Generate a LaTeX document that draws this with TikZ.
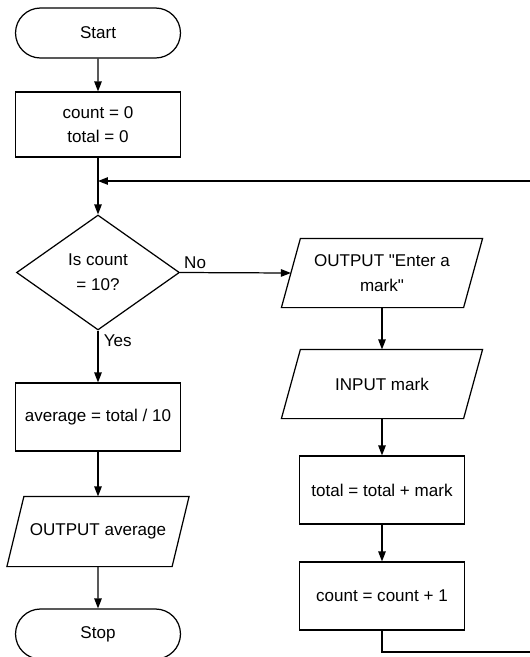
\documentclass[tikz,border=0pt]{standalone}
\usepackage{fontspec}
\setmainfont{Liberation Sans}[Ligatures=TeXOff]
\usetikzlibrary{positioning,arrows.meta,shapes.geometric,shapes.misc}

\begin{document}
\begin{tikzpicture}[
  x=0.02cm, y=-0.02cm,
  every node/.style={font=\fontsize{9.7}{14}\selectfont, line width=0.7pt},
  term/.style={draw, rounded rectangle, minimum width=3.3cm, minimum height=1cm,
               inner sep=0pt},
  proc/.style={draw, rectangle, minimum width=3.3cm, minimum height=1.36cm,
               inner sep=0pt, align=center},
  io/.style={rectangle, minimum width=4cm, minimum height=1.36cm,
             inner sep=0pt, align=center,
             append after command={\pgfextra{
               \draw[line width=0.7pt] ([xshift=#1]\tikzlastnode.north west)
                 -- (\tikzlastnode.north east) -- ([xshift=-#1]\tikzlastnode.south east)
                 -- (\tikzlastnode.south west) -- cycle;}}},
  io/.default=0.38cm,
  dec/.style={draw, diamond, minimum width=3.26cm, minimum height=2.3cm,
              inner sep=0pt, aspect=1.4, align=center},
  arr/.style={-{Triangle[length=2mm, width=1.5mm]}, line width=0.7pt},
  lbl/.style={inner sep=1pt},
]
\useasboundingbox (0,0) rectangle (529,657);

% main column on the left
\node[term] (St) at (98,33) {Start};
\node[proc, minimum height=1.3cm] (Ini) at (98,124.5) {count = 0\\total = 0};
\coordinate (J) at (98,181);
\node[dec] (Dec) at (98,272.5) {Is count\\= 10?};
\node[proc] (Avg) at (98,417) {average = total / 10};
\node[io=0.34cm, minimum width=3.62cm, minimum height=1.38cm] (Out) at (98,531.5) {OUTPUT average};
\node[term] (Sp) at (98,634) {Stop};

% loop body on the right
\node[io] (Ask) at (382,273) {OUTPUT "Enter a\\mark"};
\node[io] (Inp) at (382,384) {INPUT mark};
\node[proc] (Tot) at (382,490) {total = total + mark};
\node[proc] (Cnt) at (382,596) {count = count + 1};

% way back to the test, leaving the page on the right
\coordinate (Lb) at (560,652);
\coordinate (Lt) at (560,181);

\draw[arr] (St) -- (Ini);
\draw[line width=0.7pt] (Ini) -- (J);
\draw[arr] (J) -- (Dec.north);
\draw[arr] (Dec.south) -- node[lbl, pos=0.2, right, xshift=2pt] {Yes} (Avg);
\draw[arr] (Avg) -- (Out);
\draw[arr] (Out) -- (Sp);

\draw[arr] (Dec.east) -- node[lbl, pos=0, anchor=south west, xshift=1pt, yshift=1pt] {No} ([xshift=0.19cm]Ask.west);
\draw[arr] (Ask) -- (Inp);
\draw[arr] (Inp) -- (Tot);
\draw[arr] (Tot) -- (Cnt);
\draw[arr] (Cnt.south) |- (Lb) -- (Lt) -- (J);
\end{tikzpicture}
\end{document}
